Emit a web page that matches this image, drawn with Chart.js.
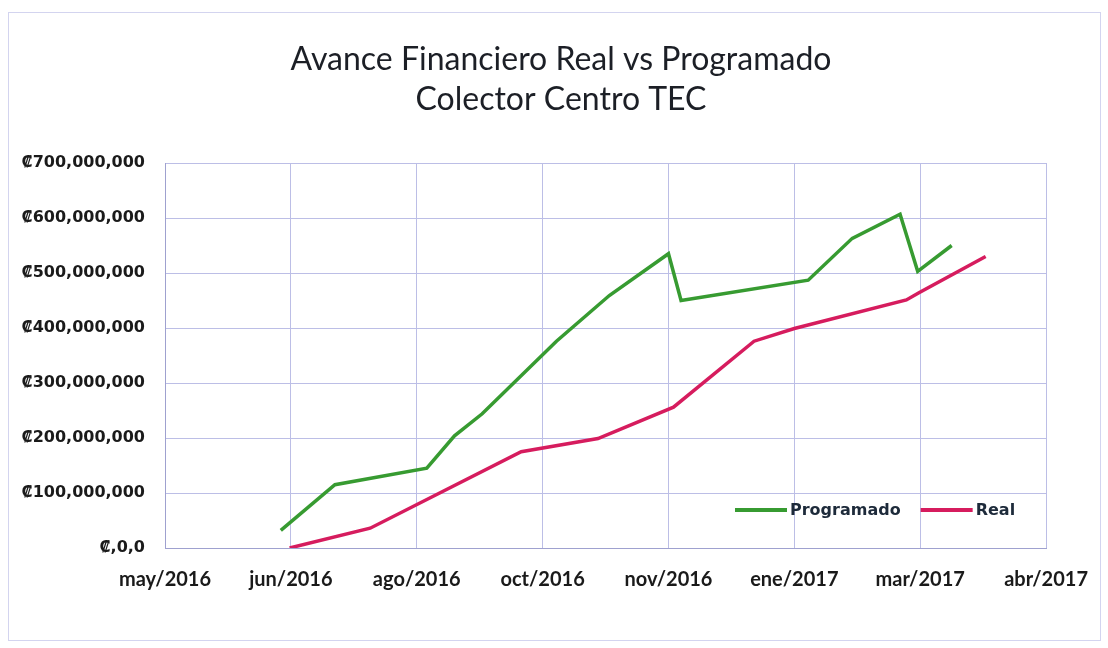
<!DOCTYPE html>
<html>
<head>
<meta charset="utf-8">
<script src="https://cdn.jsdelivr.net/npm/chart.js@4.4.1/dist/chart.umd.min.js"></script>
<style>
  html, body { margin: 0; padding: 0; background: #ffffff; }
  #contenedor { width: 1108px; height: 648px; position: relative; }
</style>
</head>
<body>
<div id="contenedor"><canvas id="grafico" width="1108" height="648"></canvas></div>
<script>
// Etiquetas de los ejes
const etiquetasX = ['may/2016', 'jun/2016', 'ago/2016', 'oct/2016', 'nov/2016', 'ene/2017', 'mar/2017', 'abr/2017'];
const etiquetasY = ['₡,0,0', '₡100,000,000', '₡200,000,000', '₡300,000,000', '₡400,000,000', '₡500,000,000', '₡600,000,000', '₡700,000,000'];

// Programado (posición en intervalos del eje X, monto en colones)
const programadoX = [0.92, 1.35, 2.08, 2.30, 2.52, 3.11, 3.53, 4.00, 4.10, 5.11, 5.46, 5.84, 5.98, 6.25];
const programadoY = [32e6, 115e6, 145e6, 204e6, 244e6, 376e6, 459e6, 535e6, 450e6, 487e6, 563e6, 607e6, 503e6, 550e6];

// Real
const realX = [0.99, 1.63, 2.83, 3.44, 4.04, 4.68, 5.00, 5.89, 5.99, 6.52];
const realY = [0, 36e6, 175e6, 199e6, 256e6, 376e6, 399e6, 451e6, 464e6, 530e6];

const fuenteTitulo = 'Lato, "Noto Sans", sans-serif';
const fuenteAncha = '"DejaVu Sans", Lato, sans-serif';

function armarPuntos(xs, ys) {
    return xs.map((x, i) => ({ x: x, y: ys[i] }));
}

// Marco exterior, título algo corrido a la derecha y leyenda dentro del área
const decoracion = {
    id: 'decoracion',
    afterLayout(chart) {
        if (chart.titleBlock) chart.titleBlock.left += 60;
    },
    beforeDraw(chart) {
        const ctx = chart.ctx;
        ctx.save();
        ctx.fillStyle = '#ffffff';
        ctx.fillRect(0, 0, chart.width, chart.height);
        ctx.strokeStyle = '#d3d4ef';
        ctx.lineWidth = 1;
        ctx.strokeRect(8.5, 12.5, chart.width - 16, chart.height - 20);
        ctx.restore();
    },
    afterDraw(chart) {
        const ctx = chart.ctx;
        const area = chart.chartArea;
        const y = area.bottom - 38;
        let x = area.left + 570;
        ctx.save();
        ctx.font = 'bold 16px ' + fuenteAncha;
        ctx.textBaseline = 'middle';
        chart.data.datasets.forEach(ds => {
            ctx.strokeStyle = ds.borderColor;
            ctx.lineWidth = 4;
            ctx.beginPath();
            ctx.moveTo(x, y);
            ctx.lineTo(x + 52, y);
            ctx.stroke();
            x += 55;
            ctx.fillStyle = '#1d2a3a';
            ctx.fillText(ds.label, x, y + 1);
            x += ctx.measureText(ds.label).width + 20;
        });
        ctx.restore();
    }
};

new Chart(document.getElementById('grafico'), {
    type: 'line',
    data: {
        datasets: [{
            label: 'Programado',
            data: armarPuntos(programadoX, programadoY),
            borderColor: '#379b31',
            borderWidth: 3.5,
            pointRadius: 0,
            tension: 0
        }, {
            label: 'Real',
            data: armarPuntos(realX, realY),
            borderColor: '#d61c5e',
            borderWidth: 3.5,
            pointRadius: 0,
            tension: 0
        }]
    },
    options: {
        responsive: false,
        animation: false,
        layout: { padding: { left: 15, right: 61, top: 0, bottom: 0 } },
        plugins: {
            legend: { display: false },
            tooltip: { enabled: false },
            title: {
                display: true,
                text: ['Avance Financiero Real vs Programado', 'Colector Centro TEC'],
                color: '#1c1f26',
                font: { family: fuenteTitulo, size: 32, weight: 'normal', lineHeight: 1.25 },
                padding: { top: 40, bottom: 43 }
            }
        },
        scales: {
            x: {
                type: 'linear',
                min: 0,
                max: 7,
                ticks: {
                    stepSize: 1,
                    callback: v => etiquetasX[v],
                    color: '#1a1a1a',
                    font: { family: fuenteTitulo, size: 20, weight: 'bold' },
                    padding: 20,
                    maxRotation: 0
                },
                grid: { color: '#bcbee6', drawTicks: false },
                border: { color: '#9fa1cf' },
                afterFit: s => { s.height = 100; }
            },
            y: {
                min: 0,
                max: 700000000,
                ticks: {
                    stepSize: 100000000,
                    callback: (v, i) => etiquetasY[i],
                    color: '#1a1a1a',
                    font: { family: fuenteAncha, size: 16, weight: 'bold' },
                    padding: 20
                },
                grid: { color: '#bcbee6', drawTicks: false },
                border: { color: '#9fa1cf' },
                afterFit: s => { s.width = 150; }
            }
        }
    },
    plugins: [decoracion]
});
</script>
</body>
</html>
